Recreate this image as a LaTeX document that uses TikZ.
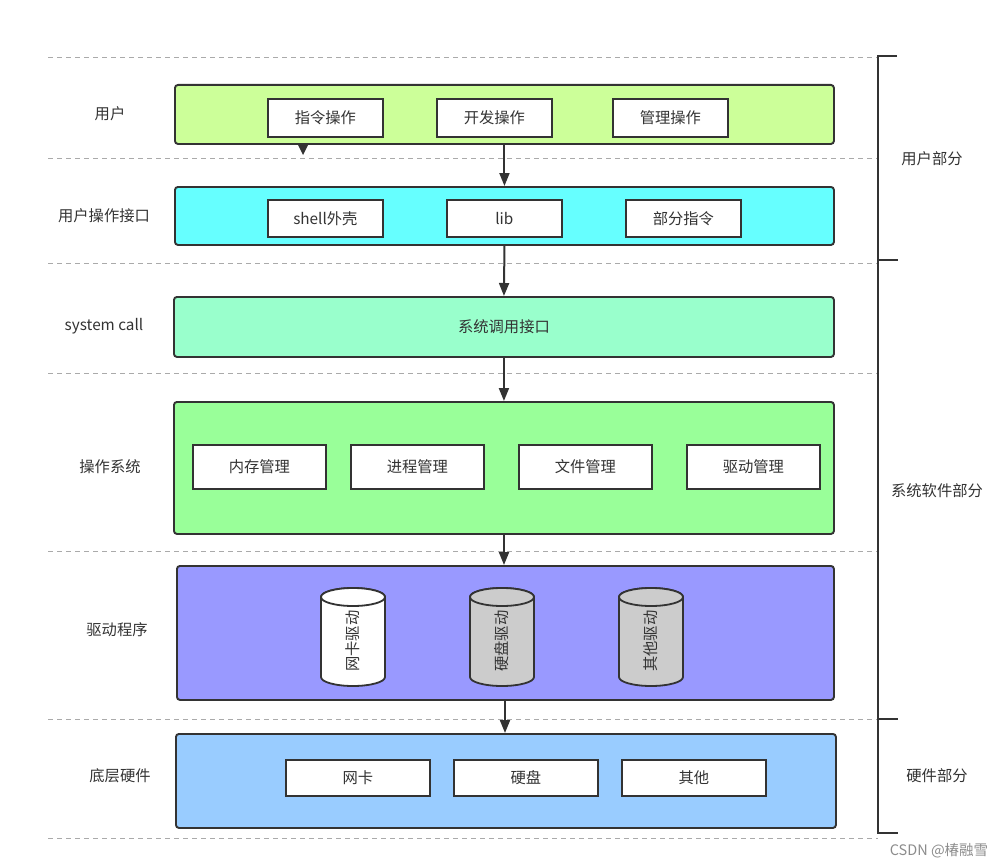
\documentclass[tikz,border=0pt]{standalone}
\usepackage{fontspec}
\setmainfont{Noto Sans CJK SC}
\usetikzlibrary{arrows.meta}
\definecolor{txt}{HTML}{333333}
\definecolor{edge}{HTML}{333333}
\definecolor{cUser}{HTML}{CCFF99}
\definecolor{cIf}{HTML}{66FFFF}
\definecolor{cSys}{HTML}{99FFCC}
\definecolor{cOS}{HTML}{99FF99}
\definecolor{cDrv}{HTML}{9999FF}
\definecolor{cHw}{HTML}{99CCFF}
\definecolor{cGray}{HTML}{CCCCCC}
\definecolor{dash}{HTML}{AAAAAA}
\tikzset{
  x=1pt,y=1pt,
  every node/.style={font=\fontsize{15.3}{17}\selectfont, text=txt, inner sep=0pt},
  layer/.style={draw=edge, line width=1.9pt, rounded corners=3pt, anchor=north west},
  item/.style={draw=edge, line width=1.8pt, fill=white, anchor=north west},
  sep/.style={draw=dash, dashed, line width=0.9pt, dash pattern=on 5pt off 4pt},
  brk/.style={draw=edge, line width=2.2pt},
  arr/.style={draw=edge, line width=2pt, -{Triangle[length=13pt,width=10pt]}},
  cyl/.style={draw=edge, line width=1.8pt},
}
\newcommand{\mybox}[6]{% name, x1, y1, x2, y2, style
  \node[#6, minimum width={#4-#2}, minimum height={#5-#3}] (#1) at (#2,-#3) {};}
\begin{document}
\begin{tikzpicture}
\useasboundingbox (0,0) rectangle (1005,-867);
% separators
\foreach \yy in {57,158,263,373,551,719,838}
  \draw[sep] (48,-\yy) -- (878,-\yy);
% bracket
\draw[brk] (897,-56) -- (878,-56) -- (878,-833) -- (898,-833);
\draw[brk] (878,-260) -- (898,-260);
\draw[brk] (878,-719) -- (898,-719);
\node (gUser) at (932,-159) {用户部分};
\node (gSys) at (937,-491) {系统软件部分};
\node (gHw) at (937,-776) {硬件部分};
% left labels
\node (lUser) at (110,-114) {用户};
\node (lIf) at (104,-216) {用户操作接口};
\node (lSys) at (104,-326) {system call};
\node (lOS) at (110,-467) {操作系统};
\node (lDrv) at (117,-630) {驱动程序};
\node (lHw) at (120,-776) {底层硬件};
% layers
\mybox{user}{174}{84}{833}{143}{layer, fill=cUser}
\mybox{iface}{174}{186}{833}{244}{layer, fill=cIf}
\mybox{sys}{173}{296}{833}{356}{layer, fill=cSys}
\mybox{os}{173}{401}{833}{533}{layer, fill=cOS}
\mybox{drv}{176}{565}{833}{699}{layer, fill=cDrv}
\mybox{hw}{175}{733}{835}{827}{layer, fill=cHw}
\node (sysText) at (sys.center) {系统调用接口};
% user items
\mybox{u1}{267}{98}{382}{136}{item}
\mybox{u2}{436}{98}{551}{136}{item}
\mybox{u3}{612}{98}{727}{136}{item}
\node at (u1.center) {指令操作};
\node at (u2.center) {开发操作};
\node at (u3.center) {管理操作};
% interface items
\mybox{i1}{267}{199}{382}{236}{item}
\mybox{i2}{446}{199}{561}{236}{item}
\mybox{i3}{625}{199}{740}{236}{item}
\node at (i1.center) {shell外壳};
\node at (i2.center) {lib};
\node at (i3.center) {部分指令};
% os items
\mybox{o1}{192}{444}{325}{488}{item}
\mybox{o2}{350}{444}{483}{488}{item}
\mybox{o3}{518}{444}{651}{488}{item}
\mybox{o4}{686}{444}{819}{488}{item}
\node at (o1.center) {内存管理};
\node at (o2.center) {进程管理};
\node at (o3.center) {文件管理};
\node at (o4.center) {驱动管理};
% hardware items
\mybox{h1}{285}{759}{429}{795}{item}
\mybox{h2}{453}{759}{597}{795}{item}
\mybox{h3}{621}{759}{765}{795}{item}
\node at (h1.center) {网卡};
\node at (h2.center) {硬盘};
\node at (h3.center) {其他};
% cylinders
\foreach \cx/\col/\lab/\nm in {353/white/网卡驱动/c1, 502/cGray/硬盘驱动/c2, 651/cGray/其他驱动/c3}{
  \draw[cyl, fill=\col] (\cx-32,-597) -- (\cx-32,-677)
    arc[start angle=180,end angle=360,x radius=32,y radius=9]
    -- (\cx+32,-597)
    arc[start angle=0,end angle=180,x radius=32,y radius=9] -- cycle;
  \draw[cyl, fill=\col] (\cx,-597) ellipse[x radius=32,y radius=9];
  \node[rotate=90] (\nm) at (\cx,-641) {\lab};
}
% arrows
\draw[arr] (user.south) -- (iface.north);
\draw[arr] (iface.south) -- (sys.north);
\draw[arr] (sys.south) -- (os.north);
\draw[arr] (os.south -| 504,0) -- (drv.north -| 504,0);
\draw[arr] (drv.south -| 505,0) -- (hw.north -| 505,0);
\fill[edge] (297.5,-144) -- (308.5,-144) -- (303,-155) -- cycle;
% watermark
\node[text=black!45, font=\fontsize{14.5}{16}\selectfont] (wm) at (939,-851) {CSDN @椿融雪};
\end{tikzpicture}
\end{document}
